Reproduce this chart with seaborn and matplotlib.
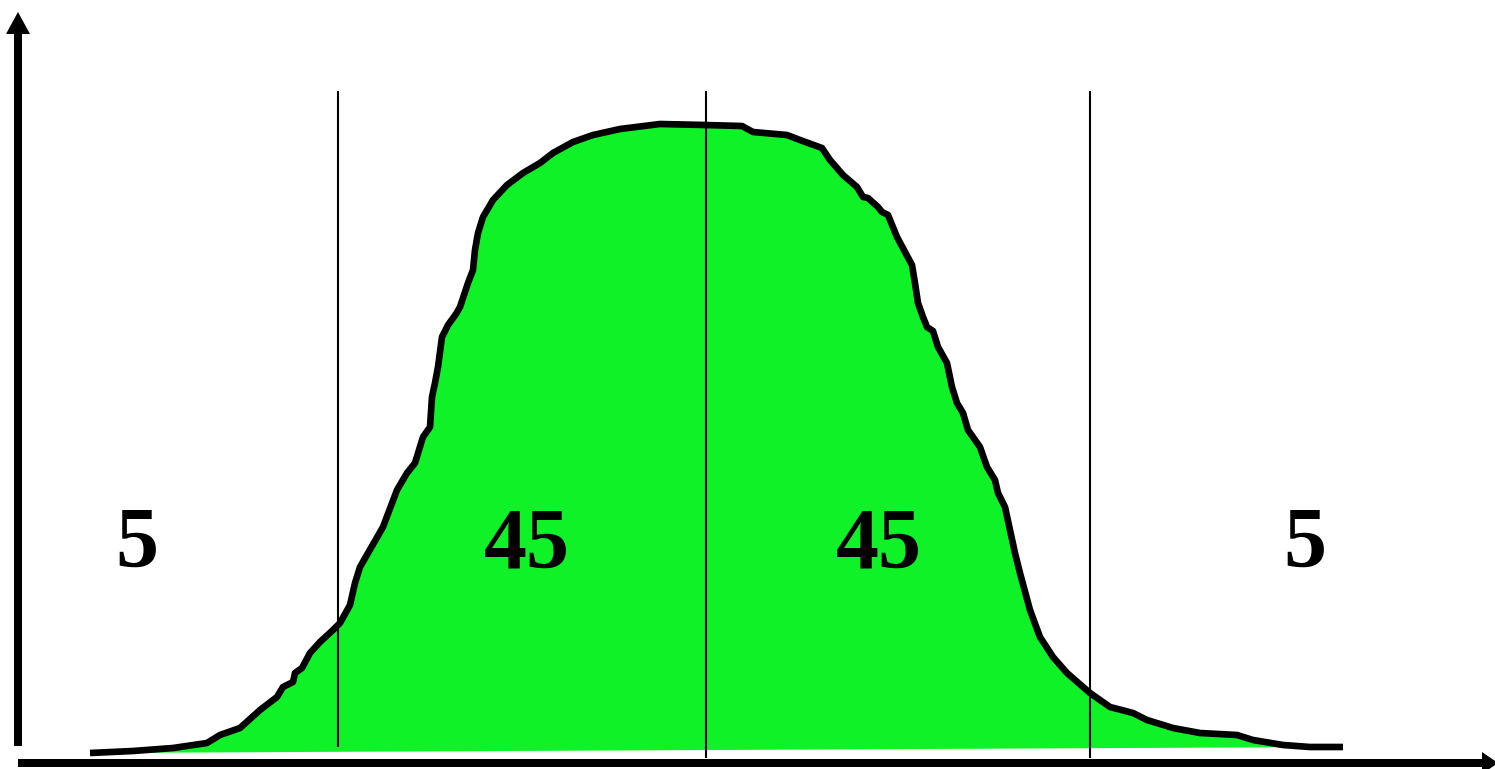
import matplotlib
matplotlib.use("Agg")
import matplotlib.pyplot as plt
import seaborn as sns
import numpy as np
import pandas as pd

# ---- data (x position, curve height above the bottom of the canvas) ----
curve_x = [90, 133, 173, 207, 220, 240, 260, 277, 283, 293, 295, 302, 310, 320,
           333, 340, 350, 355, 360, 383, 397, 407, 415, 423, 430, 432, 435, 438,
           442, 448, 456, 460, 468, 473, 475, 478, 483, 493, 507, 523, 540, 553,
           573, 593, 620, 660, 705, 742, 753, 787, 800, 822, 830, 843, 857, 863,
           868, 878, 882, 888, 897, 912, 915, 918, 923, 927, 933, 938, 947, 952,
           957, 963, 968, 980, 987, 995, 998, 1005, 1010, 1015, 1020, 1030, 1040,
           1053, 1067, 1090, 1110, 1133, 1147, 1173, 1200, 1237, 1253, 1283, 1310,
           1343]
curve_y = [16, 18, 21, 26, 34, 41, 59, 72, 82, 87, 96, 101, 116, 127,
           139, 146, 164, 186, 202, 242, 279, 296, 306, 332, 342, 372, 386, 402,
           432, 444, 455, 462, 486, 499, 519, 536, 552, 569, 584, 596, 606, 616,
           627, 634, 640, 645, 644, 643, 637, 634, 629, 621, 609, 594, 582, 572,
           571, 562, 557, 554, 532, 504, 486, 466, 452, 442, 438, 422, 406, 382,
           366, 356, 339, 322, 302, 289, 276, 262, 239, 216, 196, 159, 132,
           112, 96, 76, 62, 56, 49, 41, 36, 34, 29, 24, 22,
           22]

boundaries = [338, 706, 1090]
boundary_bottom = [22, 11, 11]
boundary_top = 678

labels = ["5", "45", "45", "5"]
label_x = [137, 527, 879, 1305]
label_baseline = 202

GREEN = "#10F228"

df = pd.DataFrame({"x": curve_x, "y": curve_y})

sns.set_theme(style="white")
plt.rcParams["font.family"] = ["Liberation Serif", "DejaVu Serif"]

W, H = 1495, 769
fig = plt.figure(figsize=(W / 100, H / 100), dpi=100)
ax = fig.add_axes([0, 0, 1, 1])
ax.set_xlim(0, W)
ax.set_ylim(0, H)
ax.set_axis_off()

# green area
ax.fill(df["x"], df["y"], color=GREEN, lw=0, zorder=1)

# boundary lines
ax.vlines(boundaries, boundary_bottom, boundary_top, colors="black", lw=1.5, zorder=2)

# curve
sns.lineplot(data=df, x="x", y="y", sort=False, estimator=None, color="black",
             lw=4.8, ax=ax, zorder=3, solid_capstyle="butt", solid_joinstyle="round")

# axes arrows
ax.arrow(18, 23, 0, 734, width=8, head_width=24, head_length=22,
         length_includes_head=True, color="black", lw=0, zorder=4)
ax.arrow(18, 6, 1480, 0, width=8, head_width=22, head_length=16,
         length_includes_head=True, color="black", lw=0, zorder=4)

# labels
for t, x in zip(labels, label_x):
    ax.text(x, label_baseline, t, ha="center", va="baseline", fontsize=62,
            fontweight="bold", color="black", zorder=5)

ax.set_xlabel("")
ax.set_ylabel("")
fig.savefig("out.png", dpi=100)
